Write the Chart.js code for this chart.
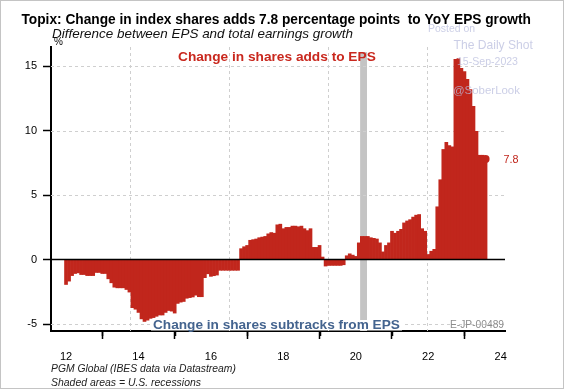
<!DOCTYPE html>
<html lang="en">
<head>
  <meta charset="UTF-8"/>
  <title>Topix: change in index shares</title>
  <script src="https://cdn.jsdelivr.net/npm/chart.js"></script>
  <style>
    html, body { margin: 0; padding: 0; background: #fff; }
    .chart-box { position: relative; width: 564px; height: 389px; }
  </style>
</head>
<body>
  <div class="chart-box"><canvas id="chart"></canvas></div>

  <script>
    // EPS growth minus total earnings growth, % pts, monthly (Jan..Dec)
    const d2012 = [-1.93, -1.67, -1.24, -1.08, -1.03, -1.16, -1.16, -1.24, -1.24, -1.24, -1.0, -1.0];
    const d2013 = [-1.08, -1.08, -1.49, -1.8, -2.14, -2.19, -2.19, -2.19, -2.32, -2.52, -3.73, -3.85];
    const d2014 = [-4.1, -4.6, -4.8, -4.7, -4.56, -4.5, -4.4, -4.3, -4.3, -4.1, -3.95, -4.0];
    const d2015 = [-4.15, -3.4, -3.3, -3.25, -3.0, -2.95, -2.9, -2.76, -2.88, -2.88, -1.4, -1.1];
    const d2016 = [-1.3, -1.25, -1.2, -0.83, -0.83, -0.83, -0.83, -0.83, -0.83, -0.83, 0.85, 1.0];
    const d2017 = [1.1, 1.5, 1.55, 1.6, 1.7, 1.75, 1.8, 2.0, 2.1, 2.05, 2.7, 2.75];
    const d2018 = [2.4, 2.5, 2.5, 2.6, 2.6, 2.55, 2.6, 2.4, 2.25, 2.4, 0.95, 0.95];
    const d2019 = [1.1, 0.2, -0.5, -0.45, -0.45, -0.45, -0.45, -0.45, -0.4, 0.3, 0.45, 0.35];
    const d2020 = [0.25, 1.3, 1.8, 1.8, 1.8, 1.7, 1.65, 1.6, 1.3, 0.6, 1.1, 1.3];
    const d2021 = [2.2, 2.05, 2.2, 2.35, 2.85, 3.0, 3.1, 3.3, 3.45, 3.5, 2.4, 2.2];
    const d2022 = [0.4, 0.65, 0.8, 4.1, 6.2, 8.55, 9.1, 8.85, 8.75, 15.55, 15.6, 14.85];
    const d2023 = [14.6, 14.0, 13.2, 11.9, 9.95, 8.1, 8.1, 7.8];

    const startYear = 12;            // axis shows years as 12, 14, ...
    const yTickValues = [-5, 0, 5, 10, 15];
    const xLabelYears = [12, 14, 16, 18, 20, 22, 24];
    const xMinorYears = [13, 15, 17, 19, 21, 23];
    const vGridYears = [13.77, 16.51, 19.24, 21.97];
    const recession = [20.12, 20.31];
    const lastLabel = "7.8";

    const diff = [].concat(d2012, d2013, d2014, d2015, d2016, d2017,
                           d2018, d2019, d2020, d2021, d2022, d2023);
    const barPoints = diff.map((v, i) => ({ x: startYear + i / 12, y: v }));
    const lastPoint = barPoints[barPoints.length - 1];

    const RED = "#c1261c";
    const FONT = '"Liberation Sans", Arial, sans-serif';

    // draw text stretched to the width it has in the picture
    function fitText(ctx, txt, x, y, width, style, color, align) {
      ctx.font = `${style} 20px ${FONT}`;
      const s = 20 * width / ctx.measureText(txt).width;
      ctx.font = `${style} ${s.toFixed(2)}px ${FONT}`;
      ctx.fillStyle = color;
      ctx.textAlign = align || "left";
      ctx.textBaseline = "middle";
      ctx.fillText(txt, x, y);
    }

    const decor = {
      id: "decor",
      beforeDraw(chart) {
        const ctx = chart.ctx;
        ctx.save();
        ctx.fillStyle = "#fff";
        ctx.fillRect(0, 0, chart.width, chart.height);
        ctx.restore();
      },
      beforeDatasetsDraw(chart) {
        const { ctx, chartArea: a, scales: { x, y } } = chart;
        ctx.save();
        // recession band
        ctx.fillStyle = "#c4c4c4";
        const x0 = x.getPixelForValue(recession[0]), x1 = x.getPixelForValue(recession[1]);
        ctx.fillRect(x0, y.getPixelForValue(16.1), x1 - x0, a.bottom - y.getPixelForValue(16.1));

        // dashed grid
        ctx.strokeStyle = "#cfcfcf";
        ctx.lineWidth = 1;
        ctx.setLineDash([3, 3]);
        yTickValues.forEach(v => {
          if (v === 0) return;
          const py = Math.round(y.getPixelForValue(v)) + 0.5;
          ctx.beginPath(); ctx.moveTo(a.left, py); ctx.lineTo(a.right, py); ctx.stroke();
        });
        vGridYears.forEach(v => {
          const px = Math.round(x.getPixelForValue(v)) + 0.5;
          ctx.beginPath(); ctx.moveTo(px, a.top); ctx.lineTo(px, a.bottom); ctx.stroke();
        });
        ctx.setLineDash([]);
        ctx.restore();
      },
      afterDatasetsDraw(chart) {
        const { ctx, chartArea: a, scales: { x, y } } = chart;
        ctx.save();
        // zero line
        const y0 = y.getPixelForValue(0);
        ctx.strokeStyle = "#000";
        ctx.lineWidth = 1.5;
        ctx.beginPath(); ctx.moveTo(a.left, y0); ctx.lineTo(a.right, y0); ctx.stroke();

        // minor x ticks
        ctx.lineWidth = 1.5;
        xMinorYears.forEach(v => {
          const px = Math.round(x.getPixelForValue(v)) + 0.5;
          ctx.beginPath(); ctx.moveTo(px, a.bottom); ctx.lineTo(px, a.bottom + 5); ctx.stroke();
        });

        // watermark, lying over the bars
        const wm = "rgba(185, 190, 222, 0.75)";
        fitText(ctx, "Posted on", 428, 29, 47, "normal", wm);
        fitText(ctx, "The Daily Shot", 453.5, 46, 79.5, "normal", wm);
        fitText(ctx, "15-Sep-2023", 457, 62, 61, "normal", wm);
        fitText(ctx, "@SoberLook", 453, 91, 67, "normal", wm);

        // titles
        fitText(ctx, "Topix: Change in index shares adds 7.8 percentage points  to YoY EPS growth",
                21.5, 20, 510, "bold", "#000");
        fitText(ctx, "Difference between EPS and total earnings growth", 52, 34.5, 301, "italic", "#111");
        ctx.font = `normal 10px ${FONT}`;
        ctx.fillStyle = "#000";
        ctx.textAlign = "left";
        ctx.textBaseline = "middle";
        ctx.fillText("%", 54, 42);

        // annotations
        fitText(ctx, "Change in shares adds to EPS", 178, 57, 198, "bold", "#c9281e");
        ctx.fillStyle = "#fff";
        ctx.fillRect(151, 320, 251, 10.5);
        fitText(ctx, "Change in shares subtracks from EPS", 153, 325.5, 247, "bold", "#44648f");
        fitText(ctx, "E-JP-00489", 504, 325.5, 54, "normal", "#8c8c8c", "right");

        // last value label
        const lx = x.getPixelForValue(lastPoint.x), ly = y.getPixelForValue(lastPoint.y);
        fitText(ctx, lastLabel, lx + 18, ly + 1, 15, "normal", RED);

        // footer
        fitText(ctx, "PGM Global (IBES data via Datastream)", 51, 369.5, 185, "italic", "#222");
        fitText(ctx, "Shaded areas = U.S. recessions", 51, 383, 150, "italic", "#222");

        // frame
        ctx.strokeStyle = "#c4c4c4";
        ctx.lineWidth = 1;
        ctx.strokeRect(0.5, 0.5, chart.width - 1, chart.height - 1);
        ctx.restore();
      }
    };

    const ctx = document.getElementById("chart").getContext("2d");
    new Chart(ctx, {
      type: "bar",
      data: {
        datasets: [
          {
            type: "line",
            data: [lastPoint],
            showLine: false,
            pointRadius: 4,
            pointBackgroundColor: RED,
            pointBorderWidth: 0,
            order: 0
          },
          {
            data: barPoints,
            backgroundColor: RED,
            borderWidth: 0,
            barPercentage: 1,
            categoryPercentage: 1,
            order: 1
          }
        ]
      },
      plugins: [decor],
      options: {
        responsive: true,
        maintainAspectRatio: false,
        animation: false,
        layout: { padding: { top: 47, right: 59, left: 0, bottom: 0 } },
        plugins: { legend: { display: false }, tooltip: { enabled: false } },
        scales: {
          x: {
            type: "linear",
            offset: false,
            min: 11.585,
            max: 24.12,
            afterBuildTicks: s => { s.ticks = xLabelYears.map(v => ({ value: v })); },
            afterFit: s => { s.height = 58; },
            ticks: {
              callback: v => String(v),
              color: "#000",
              font: { size: 11, family: FONT },
              padding: 11,
              maxRotation: 0,
              autoSkip: false
            },
            grid: { drawOnChartArea: false, drawTicks: true, tickLength: 8, tickColor: "#000", tickWidth: 1.5 },
            border: { display: true, color: "#000", width: 2 }
          },
          y: {
            min: -5.54,
            max: 16.5,
            afterBuildTicks: s => { s.ticks = yTickValues.map(v => ({ value: v })); },
            afterFit: s => { s.width = 51; },
            ticks: {
              color: "#000",
              font: { size: 11, family: FONT },
              padding: 6
            },
            grid: { drawOnChartArea: false, drawTicks: true, tickLength: 8, tickColor: "#000", tickWidth: 1.5 },
            border: { display: true, color: "#000", width: 2 }
          }
        }
      }
    });
  </script>
</body>
</html>
